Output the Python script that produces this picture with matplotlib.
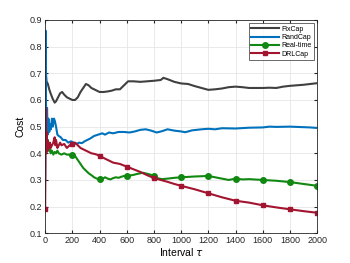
import matplotlib
matplotlib.use('Agg')
import matplotlib.pyplot as plt

# FixCap
fix_x = [0, 3, 6, 10, 15, 20, 30, 40, 55, 70, 80, 95, 110, 125, 140, 160, 180, 200,
         220, 240, 260, 280, 300, 320, 340, 360, 380, 400, 430, 460, 490, 520, 550,
         580, 610, 650, 700, 750, 800, 850, 870, 900, 950, 1000, 1050, 1100, 1150,
         1200, 1250, 1300, 1350, 1400, 1450, 1500, 1550, 1600, 1650, 1700, 1750,
         1800, 1850, 1900, 1950, 2000]
fix_y = [0.70, 0.72, 0.70, 0.67, 0.665, 0.66, 0.64, 0.625, 0.605, 0.59, 0.595, 0.61,
         0.625, 0.63, 0.62, 0.61, 0.605, 0.60, 0.60, 0.61, 0.63, 0.645, 0.66, 0.655,
         0.645, 0.64, 0.635, 0.63, 0.63, 0.632, 0.635, 0.64, 0.64, 0.655, 0.67, 0.67,
         0.668, 0.67, 0.672, 0.675, 0.683, 0.678, 0.668, 0.662, 0.66, 0.652, 0.645,
         0.638, 0.64, 0.643, 0.648, 0.65, 0.648, 0.645, 0.645, 0.645, 0.646, 0.645,
         0.65, 0.653, 0.655, 0.657, 0.66, 0.663]

# RandCap
rand_x = [0, 3, 6, 9, 14, 18, 24, 30, 36, 42, 50, 56, 65, 72, 80, 90, 100, 115, 130,
          150, 170, 190, 210, 230, 250, 270, 290, 310, 330, 360, 390, 420, 440, 470,
          500, 540, 580, 620, 660, 700, 740, 780, 820, 860, 900, 950, 1000, 1030,
          1080, 1150, 1200, 1250, 1300, 1400, 1500, 1600, 1650, 1700, 1800, 1850,
          1950, 2000]
rand_y = [0.30, 0.86, 0.60, 0.50, 0.57, 0.47, 0.53, 0.48, 0.51, 0.49, 0.53, 0.50,
          0.53, 0.52, 0.50, 0.47, 0.465, 0.46, 0.45, 0.45, 0.44, 0.445, 0.44, 0.435,
          0.44, 0.438, 0.445, 0.45, 0.455, 0.465, 0.47, 0.475, 0.47, 0.478, 0.475,
          0.48, 0.48, 0.478, 0.482, 0.488, 0.49, 0.485, 0.478, 0.483, 0.49, 0.485,
          0.482, 0.479, 0.486, 0.49, 0.492, 0.49, 0.494, 0.493, 0.496, 0.497, 0.50,
          0.499, 0.50, 0.499, 0.497, 0.495]

# Real-time
rt_x = [0, 3, 6, 9, 12, 16, 20, 25, 30, 35, 40, 50, 60, 70, 80, 90, 100, 120, 140,
        160, 180, 200, 220, 240, 260, 280, 300, 320, 340, 360, 380, 400, 420, 440,
        460, 480, 500, 520, 540, 560, 580, 600, 640, 680, 720, 760, 800, 830, 860,
        900, 950, 1000, 1100, 1200, 1250, 1300, 1350, 1400, 1450, 1500, 1600, 1700,
        1800, 1900, 2000]
rt_y = [0.415, 0.45, 0.50, 0.47, 0.44, 0.43, 0.45, 0.42, 0.41, 0.43, 0.40, 0.41,
        0.395, 0.405, 0.40, 0.41, 0.40, 0.395, 0.40, 0.395, 0.395, 0.395, 0.39,
        0.375, 0.36, 0.345, 0.335, 0.325, 0.318, 0.31, 0.305, 0.302, 0.303, 0.31,
        0.305, 0.302, 0.307, 0.31, 0.308, 0.312, 0.315, 0.316, 0.318, 0.323, 0.327,
        0.322, 0.316, 0.306, 0.303, 0.305, 0.308, 0.31, 0.313, 0.315, 0.31, 0.305,
        0.30, 0.305, 0.302, 0.303, 0.30, 0.297, 0.292, 0.285, 0.278]

# DRLCap
drl_x = [0, 2, 4, 6, 8, 10, 13, 16, 20, 25, 30, 35, 40, 50, 60, 70, 75, 80, 90, 100,
         110, 120, 140, 160, 180, 200, 220, 240, 260, 280, 300, 320, 340, 360, 380,
         400, 420, 440, 460, 480, 500, 550, 600, 650, 700, 750, 800, 850, 900, 950,
         1000, 1100, 1200, 1300, 1400, 1500, 1600, 1700, 1800, 1900, 2000]
drl_y = [0.19, 0.35, 0.57, 0.45, 0.40, 0.48, 0.42, 0.45, 0.41, 0.43, 0.42, 0.44,
         0.42, 0.43, 0.44, 0.46, 0.43, 0.45, 0.42, 0.43, 0.44, 0.43, 0.435, 0.42,
         0.43, 0.435, 0.44, 0.43, 0.42, 0.415, 0.41, 0.405, 0.40, 0.398, 0.395, 0.39,
         0.385, 0.38, 0.375, 0.37, 0.365, 0.36, 0.35, 0.34, 0.33, 0.318, 0.307, 0.30,
         0.293, 0.285, 0.278, 0.265, 0.25, 0.235, 0.222, 0.215, 0.205, 0.197, 0.19,
         0.183, 0.177]

plt.rcParams['font.family'] = ['Liberation Sans', 'DejaVu Sans']


def marks(xs):
    return [i for i, v in enumerate(xs) if v % 200 == 0]


fig = plt.figure(figsize=(3.5, 2.63), dpi=100)
ax = fig.add_axes([0.129, 0.113, 0.777, 0.811])

ax.plot(fix_x, fix_y, color='#404040', lw=1.5, label='FixCap')
ax.plot(rand_x, rand_y, color='#0072BD', lw=1.5, label='RandCap')
ax.plot(rt_x, rt_y, color='#118811', lw=1.5, marker='o', ms=4,
        markevery=marks(rt_x), label='Real-time')
ax.plot(drl_x, drl_y, color='#A2142F', lw=1.5, marker='s', ms=3.5,
        markevery=marks(drl_x), label='DRLCap')

ax.set_xlim(0, 2000)
ax.set_ylim(0.1, 0.9)
ax.set_xticks(range(0, 2001, 200))
ax.set_yticks([0.1, 0.2, 0.3, 0.4, 0.5, 0.6, 0.7, 0.8, 0.9])
ax.set_yticklabels(['0.1', '0.2', '0.3', '0.4', '0.5', '0.6', '0.7', '0.8', '0.9'])
ax.grid(True, color='#e6e6e6', lw=0.6)
ax.set_axisbelow(True)
ax.tick_params(direction='in', length=2, labelsize=6.5, colors='#262626',
               top=True, right=True, pad=2)
for s in ax.spines.values():
    s.set_color('#262626')
    s.set_linewidth(0.6)

ax.set_xlabel(r'Interval $\tau$', fontsize=7.5, labelpad=1)
ax.set_ylabel('Cost', fontsize=7.5, labelpad=3)

leg = ax.legend(loc='upper right', fontsize=5, handlelength=4, frameon=True,
                fancybox=False, edgecolor='#262626', borderpad=0.3,
                labelspacing=0.2, handletextpad=0.3)
leg.get_frame().set_linewidth(0.6)

fig.savefig('out.png', dpi=100)
